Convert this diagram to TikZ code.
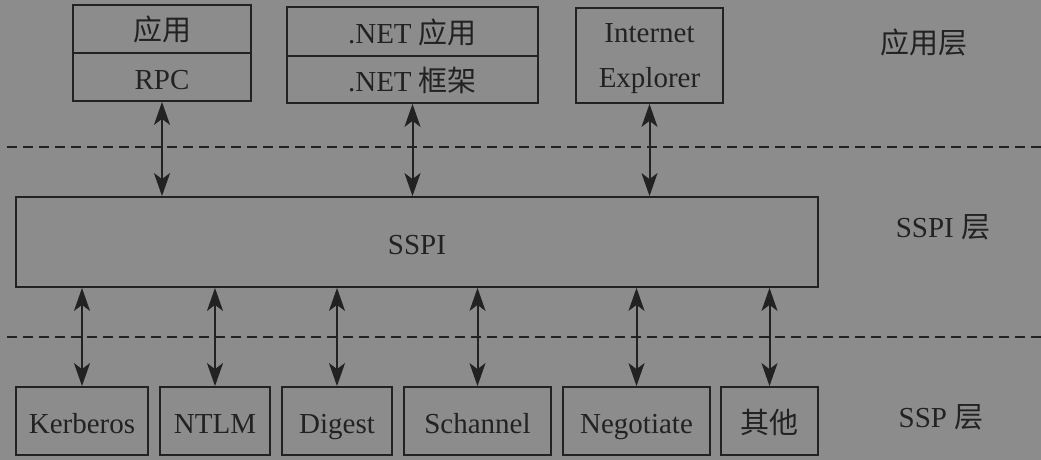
\documentclass[tikz,border=0pt]{standalone}
\usepackage{fontspec}
\setmainfont{Liberation Serif}
\newfontfamily\cjk{Noto Sans CJK SC}
\usetikzlibrary{arrows.meta}
\definecolor{bg}{RGB}{140,140,140}
\definecolor{ink}{RGB}{34,34,34}
\begin{document}
\begin{tikzpicture}[x=1pt,y=-1pt,
  box/.style={draw=ink,line width=1.8pt,inner sep=0pt,text=ink,
    font=\fontsize{29}{34}\selectfont,text height=27pt,text depth=3pt},
  lbl/.style={text=ink,inner sep=0pt,font=\fontsize{29}{34}\selectfont},
  txt/.style={lbl,text height=27pt,text depth=3pt},
  sep/.style={draw=ink,line width=1.6pt,dash pattern=on 10pt off 6pt},
  conn/.style={draw=ink,line width=2pt,{Stealth[length=23pt,width=16pt,inset=6pt]}-{Stealth[length=23pt,width=16pt,inset=6pt]}}]
\fill[bg] (0,0) rectangle (1041,460);
\useasboundingbox (0,0) rectangle (1041,460);
% application layer
\node[box,minimum width=178pt,minimum height=48pt] (a1t) at (162,29) {{\cjk 应用}};
\node[box,minimum width=178pt,minimum height=48pt] (a1b) at (162,77) {RPC};
\node[box,minimum width=251pt,minimum height=49pt] (a2t) at (412.5,31.5) {.NET {\cjk 应用}};
\node[box,minimum width=251pt,minimum height=47pt] (a2b) at (412.5,79.5) {.NET {\cjk 框架}};
\node[box,minimum width=147pt,minimum height=95pt] (a3) at (649.5,55.5) {};
\node[txt] (a3t) at (649.5,31) {Internet};
\node[txt] (a3b) at (649.5,76) {Explorer};
% SSPI
\node[box,minimum width=802pt,minimum height=90pt] (sspi) at (417,242) {SSPI};
% SSP
\node[box,minimum width=132pt,minimum height=68pt] (k) at (82,421) {Kerberos};
\node[box,minimum width=110pt,minimum height=68pt] (n) at (215,421) {NTLM};
\node[box,minimum width=110pt,minimum height=68pt] (d) at (337,421) {Digest};
\node[box,minimum width=147pt,minimum height=68pt] (s) at (477.5,421) {Schannel};
\node[box,minimum width=147pt,minimum height=68pt] (g) at (636.5,421) {Negotiate};
\node[box,minimum width=97pt,minimum height=68pt] (o) at (769.5,421) {{\cjk 其他}};
% layer labels
\node[lbl] (l1) at (924,42) {{\cjk 应用层}};
\node[lbl] (l2) at (943,227) {SSPI {\cjk 层}};
\node[lbl] (l3) at (941,417) {SSP {\cjk 层}};
% separators
\coordinate (s1a) at (7,147); \coordinate (s1b) at (1041,147);
\coordinate (s2a) at (7,337); \coordinate (s2b) at (1041,337);
\draw[sep] (s1a) -- (s1b);
\draw[sep] (s2a) -- (s2b);
% connectors
\foreach \b in {a1b,a2b,a3}
  \draw[conn] (\b.south) -- (\b.south |- sspi.north);
\foreach \b in {k,n,d,s,g,o}
  \draw[conn] (\b.north |- sspi.south) -- (\b.north);
\end{tikzpicture}
\end{document}
